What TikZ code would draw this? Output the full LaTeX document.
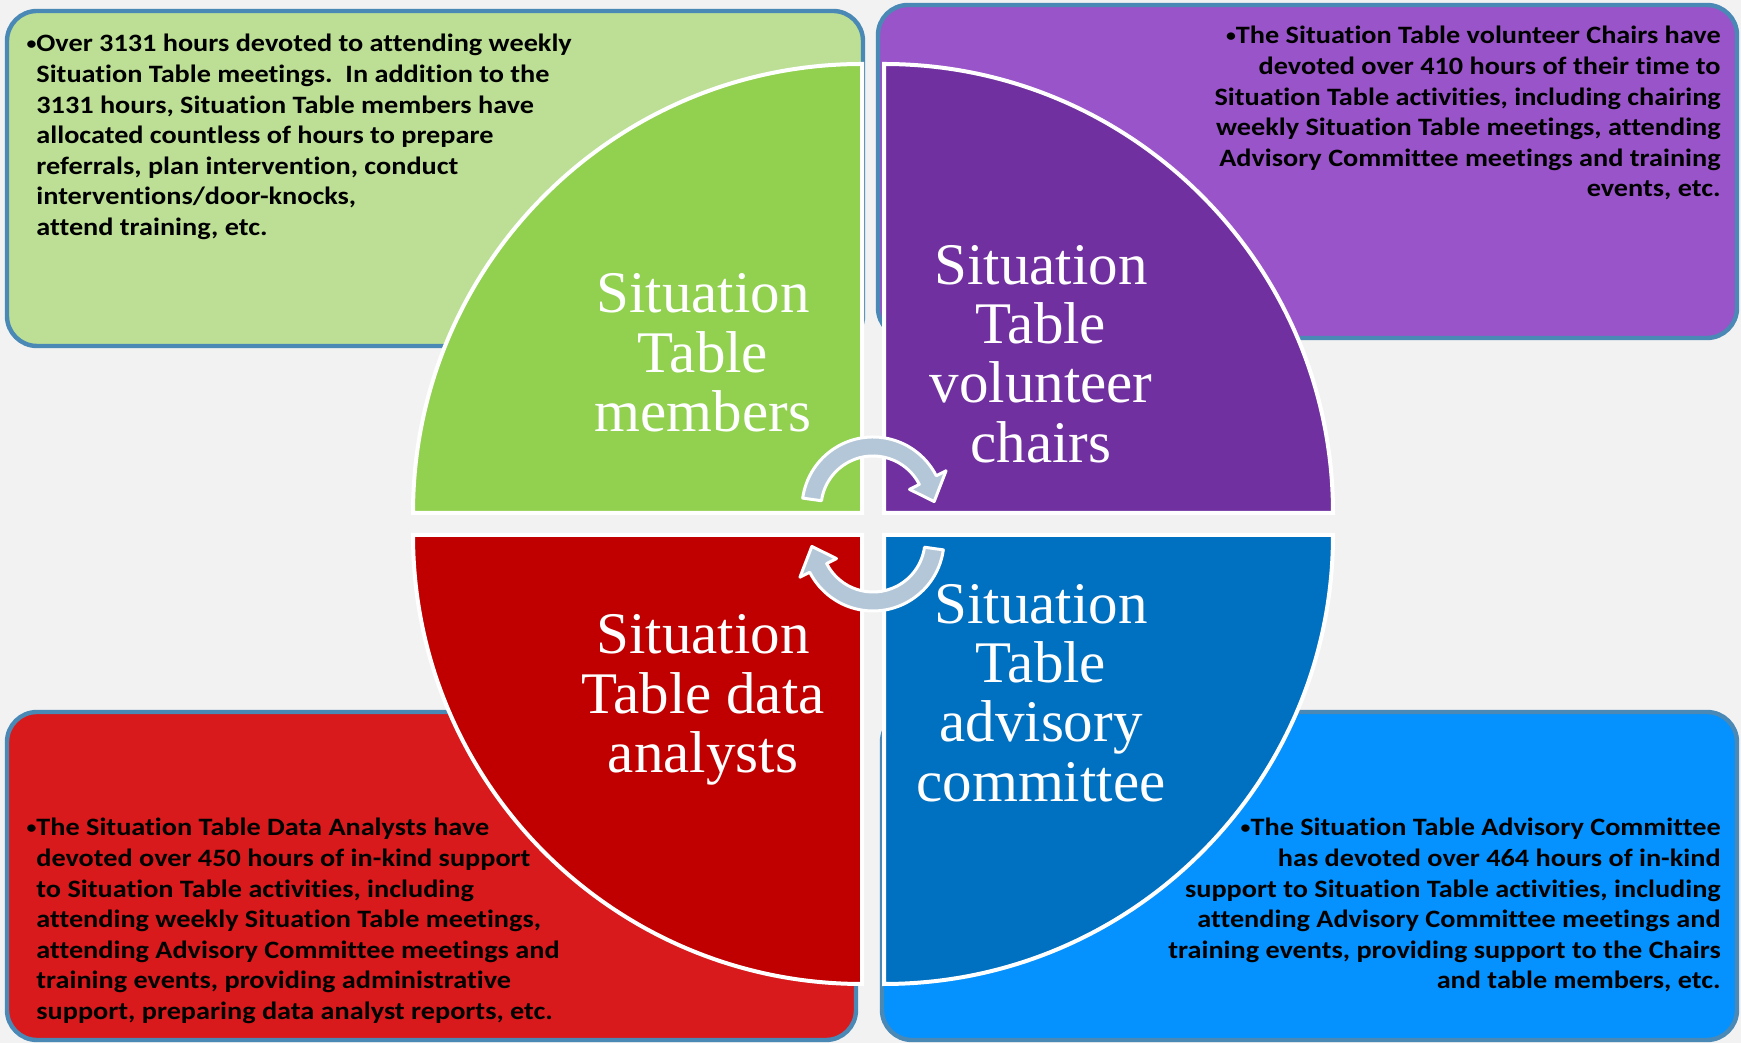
\documentclass[tikz,border=0pt]{standalone}
\usepackage{fontspec}
\newfontfamily\calfont[FakeStretch=1.13, Ligatures=NoCommon]{Carlito}
\newfontfamily\serfont{Liberation Serif}
\newcommand{\infofont}{\calfont\bfseries\fontsize{12.5}{15.3}\selectfont}
\newcommand{\quartfont}{\serfont\fontsize{29.5}{29.7}\selectfont}
\newcommand{\dotmark}{\raisebox{0.1em}{\scalebox{0.7}{•}}}
\definecolor{pagebg}{HTML}{F2F2F2}
\definecolor{boxedge}{HTML}{4A89B6}
\definecolor{lightgreen}{HTML}{BCDF95}
\definecolor{lightpurple}{HTML}{9954C9}
\definecolor{boxred}{HTML}{D81A1C}
\definecolor{boxblue}{HTML}{0592FE}
\definecolor{quartgreen}{HTML}{92D050}
\definecolor{quartpurple}{HTML}{7030A0}
\definecolor{quartred}{HTML}{C00000}
\definecolor{quartblue}{HTML}{0070C0}
\definecolor{arrowfill}{HTML}{B4C7D8}
\tikzset{
  infobox/.style={draw=boxedge, line width=2.2pt, rounded corners=15pt},
  quarter/.style={draw=white, line width=2pt},
  quarterlabel/.style={text=white, align=center, font=\quartfont, inner sep=0pt},
  infotext/.style={font=\infofont, inner sep=0pt},
  cyclearrow/.style={fill=arrowfill, draw=white, line width=1.5pt, line join=round}
}
\begin{document}
\begin{tikzpicture}[x=0.5pt, y=0.5pt]
  \fill[pagebg] (0,0) rectangle (1741,1043);
  \useasboundingbox (0,0) rectangle (1741,1043);

  % text boxes behind the circle
  \draw[infobox, fill=lightgreen]  (7,697)   rectangle (863,1032);
  \draw[infobox, fill=lightpurple] (878,705) rectangle (1737,1038);
  \draw[infobox, fill=boxred]      (7,3)     rectangle (856,331);
  \draw[infobox, fill=boxblue]     (882,3)   rectangle (1737,331);

  % the four quarters
  \draw[quarter, fill=quartgreen]  (862,530) -- ++(0,449) arc[start angle=90, end angle=180, radius=449] -- cycle;
  \draw[quarter, fill=quartpurple] (884,530) -- ++(449,0) arc[start angle=0, end angle=90, radius=449] -- cycle;
  \draw[quarter, fill=quartred]    (862,508) -- ++(-449,0) arc[start angle=180, end angle=270, radius=449] -- cycle;
  \draw[quarter, fill=quartblue]   (884,508) -- ++(0,-449) arc[start angle=270, end angle=360, radius=449] -- cycle;

  \node[quarterlabel] (members)  at (703,690)  {Situation\\Table\\members};
  \node[quarterlabel] (chairs)   at (1041,689) {Situation\\Table\\volunteer\\chairs};
  \node[quarterlabel] (analysts) at (703,343)  {Situation\\Table data\\analysts};
  \node[quarterlabel] (advisory) at (1041,350) {Situation\\Table\\advisory\\committee};

  % cycle arrows in the middle
  \begin{scope}[shift={(873,535)}]
    \draw[cyclearrow] (172:71) arc[start angle=172, end angle=27, radius=71]
      -- (27:82) -- (6:61.5) -- (27:41) -- (27:52)
      arc[start angle=27, end angle=172, radius=52] -- cycle;
  \end{scope}
  \begin{scope}[shift={(873,503)}, rotate=180]
    \draw[cyclearrow] (172:71) arc[start angle=172, end angle=27, radius=71]
      -- (27:82) -- (6:61.5) -- (27:41) -- (27:52)
      arc[start angle=27, end angle=172, radius=52] -- cycle;
  \end{scope}

  % box texts
  \node[infotext, align=left, anchor=north west] (memberstext) at (36,1009)
    {\llap{\dotmark}Over 3131 hours devoted to attending weekly\\
     Situation Table meetings.\ \ In addition to the\\
     3131 hours, Situation Table members have\\
     allocated countless of hours to prepare\\
     referrals, plan intervention, conduct\\
     interventions/door-knocks,\\
     attend training, etc.};
  \node[infotext, align=right, anchor=north east] (chairstext) at (1721,1017)
    {\dotmark The Situation Table volunteer Chairs have\\
     devoted over 410 hours of their time to\\
     Situation Table activities, including chairing\\
     weekly Situation Table meetings, attending\\
     Advisory Committee meetings and training\\
     events, etc.};
  \node[infotext, align=left, anchor=north west] (analyststext) at (36,225)
    {\llap{\dotmark}The Situation Table Data Analysts have\\
     devoted over 450 hours of in-kind support\\
     to Situation Table activities, including\\
     attending weekly Situation Table meetings,\\
     attending Advisory Committee meetings and\\
     training events, providing administrative\\
     support, preparing data analyst reports, etc.};
  \node[infotext, align=right, anchor=north east] (advisorytext) at (1721,225)
    {\dotmark The Situation Table Advisory Committee\\
     has devoted over 464 hours of in-kind\\
     support to Situation Table activities, including\\
     attending Advisory Committee meetings and\\
     training events, providing support to the Chairs\\
     and table members, etc.};
\end{tikzpicture}
\end{document}
